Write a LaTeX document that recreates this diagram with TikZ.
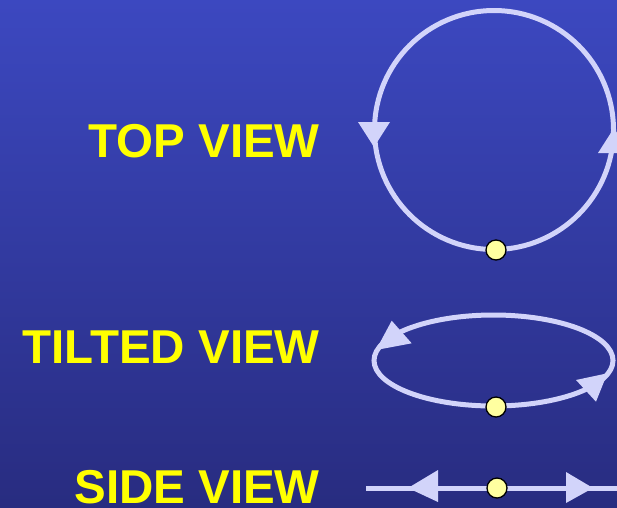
\documentclass[tikz,border=0pt]{standalone}
\usepackage{fontspec}
\setmainfont{Liberation Sans}
\usepackage{tikz}
\usetikzlibrary{positioning}

\definecolor{bgtop}{RGB}{60,72,192}
\definecolor{bgbottom}{RGB}{40,44,128}
\definecolor{orbitcol}{RGB}{210,212,250}
\definecolor{dotcol}{RGB}{255,255,160}
\definecolor{labelcol}{RGB}{255,255,0}

\tikzset{
  orbit/.style={draw=orbitcol, line width=5pt},
  head/.style={fill=orbitcol},
  viewlabel/.style={anchor=base east, inner sep=0pt, text=labelcol, text depth=0pt,
    font=\fontsize{47.5}{48}\selectfont\bfseries},
  planet/.style={circle, draw=black, fill=dotcol, line width=1.3pt,
    minimum size=20pt, inner sep=0pt}
}

\begin{document}
\begin{tikzpicture}[x=1pt, y=-1pt]
    % Background with gradient
    \shade[top color=bgtop, bottom color=bgbottom] (0,0) rectangle (617,507);
    \useasboundingbox (0,0) rectangle (617,507);
    \clip (0,0) rectangle (617,507);

    % Labels
    \node[viewlabel] (ltop) at (320,157) {TOP VIEW};
    \node[viewlabel] (ltilt) at (320,363) {TILTED VIEW};
    \node[viewlabel] (lside) at (320,503) {SIDE VIEW};

    % Top view
    \draw[orbit] (494,130) circle (119.5);
    \fill[head] (374,147) -- (358,122) -- (390,122) -- cycle;
    \fill[head] (614,128) -- (598,153) -- (630,153) -- cycle;
    \node[planet] (dtop) at (496,250) {};

    % Tilted view
    \draw[orbit] (493.5,360.5) ellipse (119.5 and 45.5);
    \fill[head] (376,350) -- (391.7,320.7) -- (411.7,343.3) -- cycle;
    \fill[head] (607.3,373.3) -- (576,380) -- (596,401.7) -- cycle;
    \node[planet] (dtilt) at (496,407) {};

    % Side view
    \coordinate (sidel) at (366,488);
    \coordinate (sider) at (620,488);
    \draw[orbit] (sidel) -- (sider);
    \fill[head] (408,488) -- (438,470) -- (438,502) -- cycle;
    \fill[head] (593,488) -- (566,472) -- (566,503) -- cycle;
    \node[planet] (dside) at (497,488) {};
\end{tikzpicture}
\end{document}
